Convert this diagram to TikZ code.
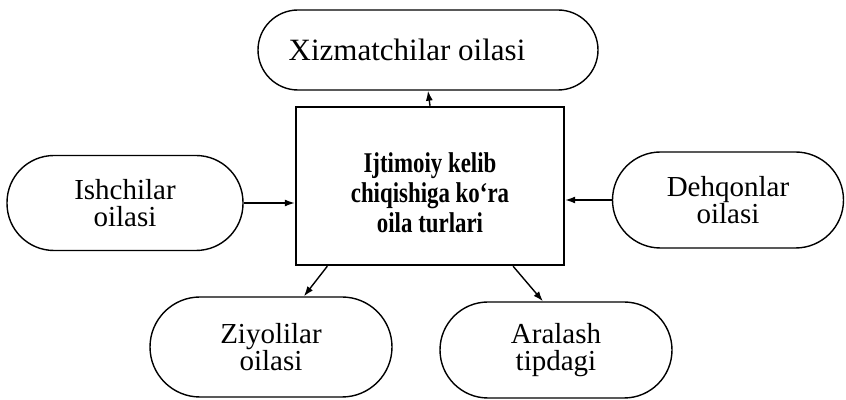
\documentclass[tikz,border=0pt]{standalone}
\usepackage{fontspec}
\setmainfont{Liberation Serif}
\newfontfamily\narrowbold[FakeStretch=0.8]{Liberation Serif Bold}
\usetikzlibrary{arrows.meta}

\begin{document}
\begin{tikzpicture}[
x=0.5pt,
y=-0.5pt,
family/.style={
  draw,
  line width=0.7pt,
  align=center,
  inner sep=0pt,
  font=\fontsize{14.5}{13.5}\selectfont
  },
kind/.style={
  draw,
  line width=1.2pt,
  inner sep=0pt,
  minimum width=134pt,
  minimum height=79pt
  },
kindtext/.style={
  align=center,
  inner sep=0pt,
  font=\narrowbold\fontsize{14.3}{15}\selectfont
  },
link/.style={
  ->,
  line width=0.7pt
  },
>={Latex[length=5pt,width=3.5pt]}
]
\useasboundingbox (0,0) rectangle (846,400);

\node[kind] (box) at (430,186) {};
\node[kindtext] (boxtext) at (430,193) {Ijtimoiy kelib\\chiqishiga ko‘ra\\oila turlari};

\node[family, minimum width=170pt, minimum height=40pt, rounded corners=20pt,
  font=\fontsize{15.5}{15}\selectfont]
  (xz) at (428,50) {Xizmatchilar oilasi\hspace*{21pt}};
\node[family, minimum width=118pt, minimum height=47.5pt, rounded corners=23.5pt]
  (ish) at (125,203) {Ishchilar\\oilasi};
\node[family, minimum width=115.5pt, minimum height=48pt, rounded corners=24pt]
  (dq) at (728,200) {Dehqonlar\\oilasi};
\node[family, minimum width=121pt, minimum height=50pt, rounded corners=25pt]
  (zy) at (271,347) {Ziyolilar\\oilasi};
\node[family, minimum width=116pt, minimum height=48pt, rounded corners=24pt]
  (ar) at (556,350) {Aralash\\tipdagi};

\draw[link] (box.north) -- (xz.south);
\draw[link] (ish.east) -- (ish.east -| box.west);
\draw[link] (dq.west) -- (dq.west -| box.east);
\draw[link] (box.218) -- (zy.57);
\draw[link] (box.316) -- (ar.105);
\end{tikzpicture}
\end{document}
